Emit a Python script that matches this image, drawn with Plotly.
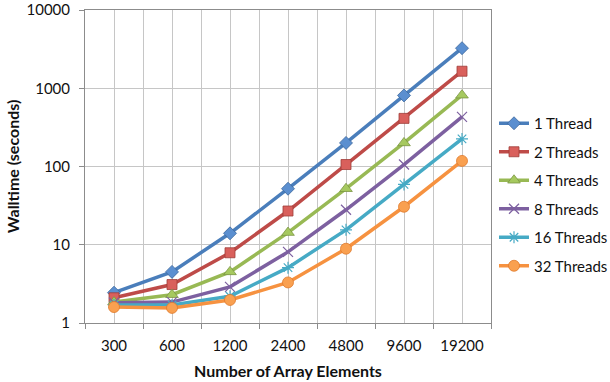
import plotly.graph_objects as go

categories = ["300", "600", "1200", "2400", "4800", "9600", "19200"]
t1 = [2.44, 4.5, 14, 52, 200, 810, 3250]
t2 = [2.1, 3.1, 7.9, 27, 106, 412, 1650]
t4 = [1.85, 2.3, 4.5, 14.3, 52, 200, 815]
t8 = [1.82, 1.85, 2.9, 8.1, 28, 106, 430]
t16 = [1.7, 1.7, 2.2, 5.1, 15.5, 59, 225]
t32 = [1.6, 1.56, 1.97, 3.3, 8.9, 30.6, 118]
series_names = ["1 Thread", "2 Threads", "4 Threads", "8 Threads", "16 Threads", "32 Threads"]
series_values = [t1, t2, t4, t8, t16, t32]
y_ticks = [1, 10, 100, 1000, 10000]
y_tick_labels = ["1", "10", "100", "1000", "10000"]

line_colors = ["#4A7EBB", "#BE4B48", "#98B954", "#7D60A0", "#46AAC5", "#F69240"]
fill_colors = ["#5B8FD0", "#D9605C", "#A6C95F", "#8A70AE", "#4BB6D1", "#F9A050"]
edge_colors = ["#3C679C", "#9E3C39", "#7A9443", "#634B83", "#3A8BA2", "#E07A2C"]
symbols = ["diamond", "square", "triangle-up", "x-thin-open", "asterisk-open", "circle"]
sizes = [10, 10, 11, 10, 10, 11]

x_idx = list(range(len(categories)))

fig = go.Figure()
for i, (name, vals) in enumerate(zip(series_names, series_values)):
    is_open = symbols[i].endswith("open")
    fig.add_trace(go.Scatter(
        x=x_idx, y=vals, name=name, mode="lines+markers",
        legendgroup=name,
        line=dict(color=line_colors[i], width=3.5),
        marker=dict(
            symbol=symbols[i], size=sizes[i],
            color=line_colors[i] if is_open else fill_colors[i],
            line=dict(color=line_colors[i] if is_open else edge_colors[i],
                      width=1.2 if is_open else 0.8),
        ),
    ))

grid = "#C6C6C6"
axis_line = "#8C8C8C"
font_family = "Lato, 'Open Sans', sans-serif"

fig.update_layout(
    width=610, height=382,
    margin=dict(l=85, r=119, t=10, b=59),
    paper_bgcolor="white", plot_bgcolor="white",
    font=dict(family=font_family, size=15, color="#111111"),
    legend=dict(
        x=494 / 610, xref="container", xanchor="left",
        y=1 - 107 / 382, yref="container", yanchor="top",
        traceorder="grouped", tracegroupgap=6,
        font=dict(size=15), bgcolor="rgba(0,0,0,0)",
    ),
    showlegend=True,
)

fig.update_xaxes(
    automargin=False,
    range=[-0.5, len(categories) - 0.5],
    tickmode="array", tickvals=x_idx, ticktext=categories,
    ticks="", showgrid=True, gridcolor=grid, gridwidth=1,
    showline=True, linecolor=axis_line, linewidth=1, mirror=True,
    zeroline=False, ticklabelstandoff=9,
    minor=dict(tickvals=[v - 0.5 for v in range(len(categories) + 1)],
               ticks="outside", ticklen=5, tickcolor=axis_line,
               showgrid=True, gridcolor=grid, gridwidth=1),
    title=dict(text="<b>Number of Array Elements</b>", standoff=12,
               font=dict(size=16)),
    tickfont=dict(size=15),
)

fig.update_yaxes(
    automargin=False,
    type="log", range=[0, 4],
    tickmode="array", tickvals=y_ticks, ticktext=y_tick_labels,
    ticks="outside", ticklen=5, tickcolor=axis_line,
    showgrid=True, gridcolor=grid, gridwidth=1,
    showline=True, linecolor=axis_line, linewidth=1, mirror=True,
    zeroline=False, ticklabelstandoff=6,
    title=dict(text="<b>Walltime (seconds)</b>", standoff=2,
               font=dict(size=16)),
    tickfont=dict(size=15),
)

fig.write_html("out.html")
